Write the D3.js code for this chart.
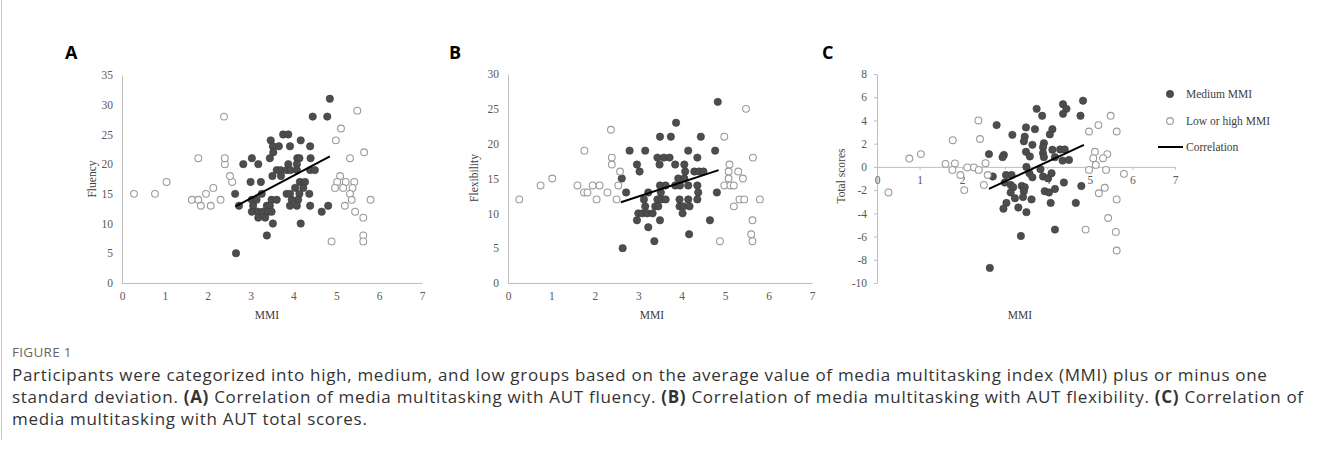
<!DOCTYPE html>
<html>
<head>
<meta charset="utf-8">
<script src="https://cdn.jsdelivr.net/npm/d3@7"></script>
<style>
  body { margin: 0; background: #fff; }
  .ttl { font-family: "Liberation Serif", serif; font-size: 11.5px; fill: #404040; }
  .cap { font-family: "Open Sans", "Noto Sans", sans-serif; font-size: 17px; letter-spacing: 0.7px; fill: #333; }
</style>
</head>
<body>
<svg id="fig" width="1329" height="459"></svg>
<script>
// MMI / score pairs
var fluencyMedium = [
  [2.64,15],[2.66,5],[2.73,13],[2.83,20],
  [4.85,31],[4.45,28],[4.79,28],[3.76,25],[3.88,25],[3.47,24],[4.17,24],[3.52,23],[3.66,23],[3.92,23],[4.39,23],
  [3.53,22],[3.03,21],[3.45,21],[4.09,21],[4.14,21],[4.4,21],[3.18,20],[3.88,20],[4.08,20],
  [3.61,19],[3.7,19],[3.84,19],[3.93,19],[4.08,19],[4.39,19],[4.5,19],[3.51,18],[3.71,18],
  [3.0,17],[3.24,17],[4.15,17],[4.27,17],[4.04,16],[4.23,16],
  [3.26,15],[3.84,15],[3.92,15],[4.14,15],[4.37,15],
  [3.03,14],[3.14,14],[3.49,14],[3.61,14],[3.96,14],[4.11,14],
  [3.06,13],[3.38,13],[3.45,13],[3.92,13],[4.08,13],[4.39,13],[4.81,13],
  [3.03,12],[3.17,12],[3.29,12],[3.41,12],[3.49,12],[4.66,12],
  [3.18,11],[3.34,11],[3.52,10],[4.17,10],[3.38,8]
];
var fluencyOther = [
  [0.28,15],[0.77,15],[1.04,17],[1.63,14],[1.78,14],[1.84,13],[1.96,15],[2.13,16],[2.07,13],[2.3,14],
  [2.57,17],[2.52,18],[2.4,20],[2.4,21],[1.78,21],[2.38,28],
  [5.49,29],[5.11,26],[4.99,24],[5.65,22],[5.32,21],[5.09,18],[5.02,17],[5.22,17],[5.42,17],
  [4.97,16],[5.16,16],[5.38,16],[5.32,15],[5.36,14],[5.2,13],[5.8,14],[5.44,12],[5.63,11],
  [5.63,8],[5.63,7],[4.89,7]
];
var flexMedium = [
  [2.8,19],[2.62,15],[2.64,5],[2.72,13],
  [4.83,26],[3.87,23],[3.5,21],[3.75,21],[4.44,21],[3.16,19],[4.15,19],[4.77,19],
  [3.44,18],[3.59,18],[3.72,18],[4.36,18],[2.97,17],[3.49,17],[3.85,17],[4.06,17],
  [3.03,16],[4.08,16],[4.29,16],[4.4,16],[4.5,16],[3.92,15],[4.06,15],
  [3.5,14],[3.63,14],[3.85,14],[3.96,14],[4.15,14],[4.36,14],
  [3.23,13],[3.52,13],[4.38,13],[4.81,13],
  [3.13,12],[3.44,12],[3.54,12],[3.63,12],[3.95,12],[4.15,12],[4.36,12],
  [3.16,11],[3.39,11],[3.46,11],[3.95,11],[4.04,11],[4.18,11],
  [3.0,10],[3.1,10],[3.21,10],[3.33,10],[4.02,10],
  [2.97,9],[3.5,9],[4.65,9],[3.23,8],[4.17,7],[3.37,6]
];
var flexOther = [
  [2.37,22],[1.76,19],[2.39,18],[2.39,17],[2.58,16],[1.02,15],[0.75,14],[1.6,14],[1.95,14],[2.11,14],
  [2.54,14],[0.26,12],[1.75,13],[1.83,13],[2.04,12],[2.29,13],[2.5,12],
  [5.48,25],[4.98,21],[5.64,18],[5.1,17],[5.3,16],[5.08,16],[5.41,15],[5.08,15],[4.98,14],[5.12,14],
  [5.2,14],[5.33,12],[5.44,12],[5.8,12],[5.2,11],[5.63,9],[5.6,7],[5.63,6],[4.88,6]
];
var totalMedium = [
  [2.81,3.6],[2.63,1.1],[2.72,-0.83],[2.65,-8.7],
  [4.84,5.7],[3.75,5.0],[4.37,5.4],[4.45,5.0],[4.37,4.57],[3.88,4.4],[4.78,4.4],[3.5,3.4],[3.71,3.25],
  [4.12,3.25],[4.06,2.8],[3.18,2.76],[3.47,2.6],[3.45,2.2],[3.65,1.9],[3.92,2.04],[3.9,1.7],[4.12,1.47],
  [4.3,1.5],[4.41,1.5],[2.98,1.03],[2.95,0.84],[3.5,1.3],[3.59,0.9],[3.9,1.18],[3.92,0.84],[4.18,0.84],
  [4.36,0.54],[4.51,0.6],[3.51,0],[3.84,-0.2],[3.03,-0.7],[3.16,-0.7],[3.58,-0.55],[3.65,-0.9],[3.9,-0.83],
  [4.02,-0.98],[4.1,-0.55],[4.39,-1.35],[3.0,-1.35],
  [3.14,-1.55],[3.2,-1.75],[3.4,-1.64],[3.47,-1.75],[3.45,-2.1],[3.14,-2.2],[3.24,-2.7],[3.43,-2.6],
  [3.63,-2.8],[3.04,-3.1],[2.97,-3.6],[3.32,-3.5],[3.51,-3.9],[3.94,-2.1],[4.04,-2.2],[4.18,-1.9],
  [4.08,-3.1],[4.67,-3.1],[4.8,-1.65],[3.38,-5.95],[4.18,-5.4]
];
var totalOther = [
  [2.38,4],[2.42,2.4],[1.78,2.3],[0.76,0.72],[1.03,1.1],[1.61,0.26],[1.83,0.3],[1.77,-0.26],[1.96,-0.7],
  [2.12,-0.05],[2.28,-0.05],[2.39,-0.26],[2.55,0.32],[2.6,-0.7],[2.51,-1.55],[2.05,-2.0],[0.27,-2.2],
  [5.49,4.4],[5.2,3.6],[4.98,3.05],[5.63,3.05],[5.12,1.3],[5.41,1.1],[5.31,0.75],[5.08,0.75],[5.14,0.17],
  [4.98,-0.26],[5.38,-0.26],[5.8,-0.6],[5.35,-1.8],[5.21,-2.27],[5.63,-2.8],[5.43,-4.4],[4.9,-5.4],
  [5.61,-5.6],[5.63,-7.2]
];
// correlation line end points
var fluencyLine = [[2.65,12.9],[4.85,21.3]];
var flexLine = [[2.6,11.6],[4.85,16.2]];
var totalLine = [[2.63,-1.9],[4.86,1.9]];

var xTicks = [0,1,2,3,4,5,6,7];
var fluencyTicks = [0,5,10,15,20,25,30,35];
var flexTicks = [0,5,10,15,20,25,30];
var totalTicks = [-10,-8,-6,-4,-2,0,2,4,6,8];
var legendLabels = ['Medium MMI','Low or high MMI','Correlation'];
var captionLines = [
  [['Participants were categorized into high, medium, and low groups based on the average value of media multitasking index (MMI) plus or minus one', false]],
  [['standard deviation. ', false],['(A)', true],[' Correlation of media multitasking with AUT fluency. ', false],['(B)', true],[' Correlation of media multitasking with AUT flexibility. ', false],['(C)', true],[' Correlation of', false]],
  [['media multitasking with AUT total scores.', false]]
];

var svg = d3.select('#fig');

// frame line on the left
svg.append('line').attr('x1', 1.5).attr('x2', 1.5).attr('y1', 0).attr('y2', 440)
  .attr('stroke', '#c8c8c8').attr('stroke-width', 1);

function drawPanel(cfg) {
  var x = d3.scaleLinear().domain([0, 7]).range([cfg.left, cfg.right]);
  var y = d3.scaleLinear().domain(cfg.yDomain).range([cfg.bottom, cfg.top]);
  var g = svg.append('g');
  var fmt = d => d < 0 ? '-' + Math.abs(d) : String(d);

  var xAxisY = cfg.zeroAxis ? y(0) : cfg.bottom;

  g.append('g').attr('class', 'axis')
    .attr('transform', 'translate(' + cfg.left + ',0)')
    .call(d3.axisLeft(y).tickValues(cfg.yTicks).tickFormat(fmt)
      .tickSizeInner(cfg.tick).tickSizeOuter(0).tickPadding(cfg.zeroAxis ? 7 : 9));

  g.append('g').attr('class', 'axis')
    .attr('transform', 'translate(0,' + xAxisY + ')')
    .call(d3.axisBottom(x).tickValues(xTicks).tickFormat(fmt)
      .tickSizeInner(cfg.tick).tickSizeOuter(0).tickPadding(cfg.zeroAxis ? 6 : 9));

  g.selectAll('.axis path, .axis line').attr('stroke', '#bfbfbf');
  g.selectAll('.axis text')
    .style('font-family', '"Liberation Serif", "DejaVu Serif", serif')
    .style('font-size', '11.5px').style('fill', '#595959');

  g.selectAll('.med').data(cfg.medium).enter().append('circle')
    .attr('cx', d => x(d[0])).attr('cy', d => y(d[1])).attr('r', 3.7)
    .attr('fill', '#4d4d4d').attr('stroke', '#3d3d3d').attr('stroke-width', 0.6);

  g.selectAll('.oth').data(cfg.other).enter().append('circle')
    .attr('cx', d => x(d[0])).attr('cy', d => y(d[1])).attr('r', 3.4)
    .attr('fill', '#fff').attr('stroke', '#9a9a9a').attr('stroke-width', 1.1);

  g.append('line')
    .attr('x1', x(cfg.line[0][0])).attr('y1', y(cfg.line[0][1]))
    .attr('x2', x(cfg.line[1][0])).attr('y2', y(cfg.line[1][1]))
    .attr('stroke', '#000').attr('stroke-width', 2);

  g.append('text').attr('class', 'ttl')
    .attr('transform', 'translate(' + cfg.yLabelX + ',' + cfg.yLabelY + ') rotate(-90)')
    .attr('text-anchor', 'middle').text(cfg.yLabel);

  g.append('text').attr('class', 'ttl')
    .attr('x', cfg.xLabelX).attr('y', 319).attr('text-anchor', 'middle').text('MMI');

  svg.append('text')
    .attr('x', cfg.letterX).attr('y', 59)
    .style('font-family', '"Open Sans", "Noto Sans", sans-serif')
    .style('font-weight', 700).style('font-size', '18px')
    .text(cfg.letter);
}

drawPanel({ letter: 'A', letterX: 65, left: 122, right: 422, top: 75, bottom: 283,
  yDomain: [0, 35], yTicks: fluencyTicks, tick: 0, zeroAxis: false,
  medium: fluencyMedium, other: fluencyOther, line: fluencyLine,
  yLabel: 'Fluency', yLabelX: 96, yLabelY: 179, xLabelX: 267 });

drawPanel({ letter: 'B', letterX: 449, left: 508, right: 812, top: 74, bottom: 283,
  yDomain: [0, 30], yTicks: flexTicks, tick: 0, zeroAxis: false,
  medium: flexMedium, other: flexOther, line: flexLine,
  yLabel: 'Flexibility', yLabelX: 478, yLabelY: 178, xLabelX: 652 });

drawPanel({ letter: 'C', letterX: 822, left: 877, right: 1175, top: 74, bottom: 283,
  yDomain: [-10, 8], yTicks: totalTicks, tick: 3, zeroAxis: true,
  medium: totalMedium, other: totalOther, line: totalLine,
  yLabel: 'Total scores', yLabelX: 845, yLabelY: 176, xLabelX: 1020 });

// legend
var lg = svg.append('g');
lg.append('circle').attr('cx', 1170).attr('cy', 94).attr('r', 3.7)
  .attr('fill', '#4d4d4d').attr('stroke', '#3d3d3d').attr('stroke-width', 0.6);
lg.append('circle').attr('cx', 1170).attr('cy', 121).attr('r', 3.4)
  .attr('fill', '#fff').attr('stroke', '#9a9a9a').attr('stroke-width', 1.1);
lg.append('line').attr('x1', 1158).attr('x2', 1183).attr('y1', 147).attr('y2', 147)
  .attr('stroke', '#000').attr('stroke-width', 2);
lg.selectAll('text').data(legendLabels).enter().append('text')
  .attr('class', 'ttl').attr('x', 1186).attr('y', (d, i) => 98 + i * 26.5).text(d => d);

// caption
svg.append('text').attr('x', 12).attr('y', 357)
  .style('font-family', '"Open Sans", "Noto Sans", sans-serif')
  .style('font-size', '13.5px').style('fill', '#666').style('letter-spacing', '0.3px')
  .text('FIGURE 1');

captionLines.forEach(function(parts, i) {
  var t = svg.append('text').attr('class', 'cap').attr('x', 12).attr('y', 381 + i * 22);
  parts.forEach(function(p) {
    t.append('tspan').style('font-weight', p[1] ? 700 : 400).text(p[0]);
  });
});
</script>
</body>
</html>
